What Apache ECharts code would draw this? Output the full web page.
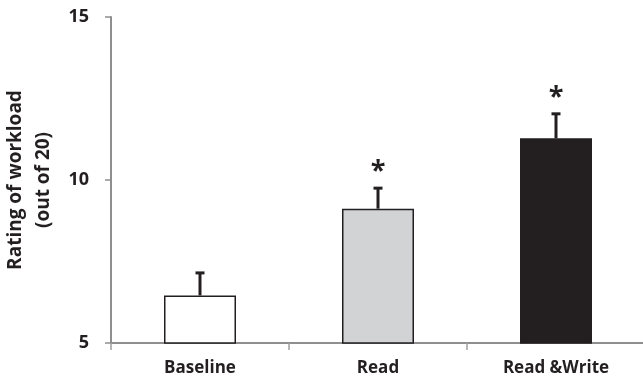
<!DOCTYPE html>
<html>
<head>
<meta charset="utf-8">
<script src="https://cdn.jsdelivr.net/npm/echarts@6/dist/echarts.min.js"></script>
<style>
html,body{margin:0;padding:0;background:#fff;}
#chart{width:643px;height:389px;}
</style>
</head>
<body>
<div id="chart"></div>
<script>
const categories = ['Baseline', 'Read', 'Read &Write'];
const means = [6.46, 9.12, 11.28];
const errors = [0.69, 0.63, 0.75];
const marks = ['', '*', '*'];
const barColors = ['#ffffff', '#d1d3d4', '#231f20'];
const yTicks = [5, 10, 15];

const chart = echarts.init(document.getElementById('chart'));
const FONT = '"Open Sans"';
const INK = '#231f20';

chart.setOption({
  animation: false,
  grid: { left: 111, top: 17, right: -2, bottom: 46, containLabel: false, outerBoundsMode: 'none' },
  xAxis: {
    type: 'category',
    data: categories,
    boundaryGap: true,
    axisLine: { lineStyle: { color: '#8f8f8f', width: 2 } },
    axisTick: { show: true, alignWithLabel: false, length: 7, lineStyle: { color: '#a0a0a0', width: 1.5 } },
    axisLabel: { color: INK, fontFamily: FONT, fontWeight: 'bold', fontSize: 17, margin: 17 }
  },
  yAxis: {
    type: 'value',
    min: yTicks[0],
    max: yTicks[yTicks.length - 1],
    interval: 5,
    name: 'Rating of workload\n(out of 20)',
    nameLocation: 'middle',
    nameGap: 46,
    nameTextStyle: { color: INK, fontFamily: FONT, fontWeight: 'bold', fontSize: 19, lineHeight: 28 },
    axisLine: { show: true, lineStyle: { color: '#8f8f8f', width: 2 } },
    axisTick: { show: true, length: 6, lineStyle: { color: '#8f8f8f', width: 1.5 } },
    splitLine: { show: false },
    axisLabel: { color: INK, fontFamily: FONT, fontWeight: 'bold', fontSize: 18, margin: 22 }
  },
  series: [
    {
      type: 'bar',
      barWidth: 72,
      data: means.map((v, i) => ({
        value: v,
        itemStyle: { color: barColors[i], borderColor: INK, borderWidth: 1.5 }
      }))
    },
    {
      type: 'custom',
      data: means.map((v, i) => [i, v, v + errors[i], marks[i]]),
      renderItem: function (params, api) {
        const base = api.coord([api.value(0), api.value(1)]);
        const top = api.coord([api.value(0), api.value(2)]);
        const x = base[0];
        const children = [
          { type: 'line', shape: { x1: x, y1: base[1], x2: x, y2: top[1] }, style: { stroke: INK, lineWidth: 3 } },
          { type: 'line', shape: { x1: x - 4.5, y1: top[1], x2: x + 4.5, y2: top[1] }, style: { stroke: INK, lineWidth: 3 } }
        ];
        const m = marks[params.dataIndex];
        if (m) {
          children.push({
            type: 'text',
            style: {
              text: m, x: x, y: top[1] - 17,
              textAlign: 'center', textVerticalAlign: 'middle',
              font: 'bold 27px ' + FONT, fill: INK
            }
          });
        }
        return { type: 'group', children: children };
      },
      z: 5
    }
  ]
});
</script>
</body>
</html>
